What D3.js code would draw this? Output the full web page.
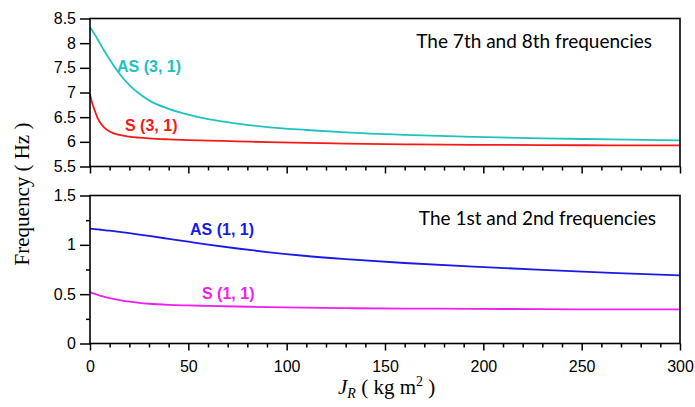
<!DOCTYPE html>
<html>
<head>
<meta charset="utf-8">
<script src="https://cdn.jsdelivr.net/npm/d3@7"></script>
<style>
  html, body { margin: 0; padding: 0; background: #fff; }
  svg { display: block; }
  .tick text { font-family: "Liberation Sans", Arial, sans-serif; font-size: 16px; fill: #000; }
</style>
</head>
<body>
<svg id="chart" width="695" height="407"></svg>
<script>
// Rotor inertia J_R (kg m^2) at which the frequencies were evaluated
const jr = [0, 1, 2, 3, 4, 5.5, 7, 10, 15, 20, 25, 30, 40, 50, 60, 75, 90, 110, 130, 160, 195, 230, 265, 300];

// 7th / 8th frequencies (Hz)
const as31 = [8.32, 8.26, 8.20, 8.14, 8.07, 7.965, 7.86, 7.67, 7.38, 7.15, 6.98, 6.84, 6.67, 6.55, 6.46, 6.37, 6.30, 6.24, 6.19, 6.14, 6.10, 6.07, 6.05, 6.03];
const s31  = [6.97, 6.80, 6.68, 6.57, 6.47, 6.37, 6.30, 6.21, 6.14, 6.105, 6.085, 6.07, 6.05, 6.035, 6.025, 6.01, 5.995, 5.98, 5.965, 5.95, 5.94, 5.935, 5.93, 5.93];

// 1st / 2nd frequencies (Hz)
const as11 = [1.163, 1.162, 1.160, 1.158, 1.156, 1.153, 1.150, 1.143, 1.131, 1.118, 1.104, 1.090, 1.061, 1.032, 1.003, 0.963, 0.927, 0.887, 0.855, 0.816, 0.779, 0.746, 0.716, 0.690];
const s11  = [0.520, 0.513, 0.506, 0.499, 0.492, 0.483, 0.474, 0.459, 0.440, 0.424, 0.412, 0.403, 0.392, 0.386, 0.381, 0.375, 0.369, 0.363, 0.358, 0.354, 0.351, 0.348, 0.346, 0.345];

const xTicks = [0, 50, 100, 150, 200, 250, 300];
const topYTicks = [5.5, 6, 6.5, 7, 7.5, 8, 8.5];
const botYTicks = [0, 0.5, 1, 1.5];

const svg = d3.select("#chart");
const x = d3.scaleLinear().domain([0, 300]).range([90, 680]);

const panels = [
  {
    y: d3.scaleLinear().domain([5.5, 8.5]).range([166.5, 18.5]),
    yTicks: topYTicks, yMinor: [],
    showXLabels: false,
    title: "The 7th and 8th frequencies", titlePos: [652, 47.5],
    series: [
      { values: as31, color: "#22c1c1", label: "AS (3, 1)", lx: 117, ly: 71.5 },
      { values: s31,  color: "#f51a1a", label: "S (3, 1)",  lx: 125, ly: 131 }
    ]
  },
  {
    y: d3.scaleLinear().domain([0, 1.5]).range([343.5, 195.5]),
    yTicks: botYTicks, yMinor: [0.25, 0.75, 1.25],
    showXLabels: true,
    title: "The 1st and 2nd frequencies", titlePos: [656, 224.5],
    series: [
      { values: as11, color: "#1a1ae6", label: "AS (1, 1)", lx: 190, ly: 235 },
      { values: s11,  color: "#f01ef0", label: "S (1, 1)",  lx: 202, ly: 299 }
    ]
  }
];

panels.forEach(p => {
  const g = svg.append("g");
  const [y0, y1] = p.y.range();

  // curves and their labels
  p.series.forEach(s => {
    const line = d3.line()
      .x((d, i) => x(jr[i]))
      .y(d => p.y(d))
      .curve(d3.curveMonotoneX);
    g.append("path")
      .attr("d", line(s.values))
      .attr("fill", "none")
      .attr("stroke", s.color)
      .attr("stroke-width", 1.8);
    g.append("text")
      .attr("x", s.lx).attr("y", s.ly)
      .attr("fill", s.color)
      .attr("font-family", "'Liberation Sans', Arial, sans-serif")
      .attr("font-weight", "bold")
      .attr("font-size", 16)
      .text(s.label);
  });

  // frame
  g.append("rect")
    .attr("x", x(0)).attr("y", y1)
    .attr("width", x(300) - x(0)).attr("height", y0 - y1)
    .attr("fill", "none").attr("stroke", "#000").attr("stroke-width", 1.6);

  // x axis: major ticks every 50, minor every 10
  const xAxis = d3.axisBottom(x).tickValues(xTicks).tickSize(7).tickSizeOuter(0)
    .tickFormat(p.showXLabels ? d3.format("d") : () => "");
  const xa = g.append("g").attr("transform", `translate(0,${y0})`).call(xAxis);
  xa.select(".domain").remove();
  xa.selectAll(".tick line").attr("stroke-width", 1.5);
  xa.selectAll(".tick text").attr("dy", "1.15em");
  const xMinor = d3.axisBottom(x).tickValues(d3.range(0, 301, 10).filter(v => v % 50 !== 0))
    .tickSize(4).tickFormat(() => "");
  const xm = g.append("g").attr("transform", `translate(0,${y0})`).call(xMinor);
  xm.select(".domain").remove();
  xm.selectAll(".tick line").attr("stroke-width", 1.5);

  // y axis
  const yAxis = d3.axisLeft(p.y).tickValues(p.yTicks).tickSize(10).tickSizeOuter(0)
    .tickFormat(d3.format("~g")).tickPadding(4);
  const ya = g.append("g").attr("transform", `translate(${x(0)},0)`).call(yAxis);
  ya.select(".domain").remove();
  ya.selectAll(".tick line").attr("stroke-width", 1.5);
  if (p.yMinor.length) {
    const ym = g.append("g").attr("transform", `translate(${x(0)},0)`)
      .call(d3.axisLeft(p.y).tickValues(p.yMinor).tickSize(4).tickFormat(() => ""));
    ym.select(".domain").remove();
    ym.selectAll(".tick line").attr("stroke-width", 1.5);
  }

  // panel title
  g.append("text")
    .attr("x", p.titlePos[0]).attr("y", p.titlePos[1])
    .attr("text-anchor", "end")
    .attr("font-family", "Lato, 'Open Sans', sans-serif")
    .attr("font-size", 19)
    .attr("fill", "#000")
    .text(p.title);
});

// y axis title
svg.append("text")
  .attr("transform", "translate(29,194) rotate(-90)")
  .attr("text-anchor", "middle")
  .attr("font-family", "'Liberation Serif', 'Times New Roman', serif")
  .attr("font-size", 21)
  .text("Frequency ( Hz )");

// x axis title: J_R ( kg m^2 )
const xt = svg.append("text")
  .attr("x", 338).attr("y", 393.5)
  .attr("font-family", "'Liberation Serif', 'Times New Roman', serif")
  .attr("font-size", 21);
xt.append("tspan").attr("font-style", "italic").text("J");
xt.append("tspan").attr("font-style", "italic").attr("font-size", 14).attr("dy", 4).text("R");
xt.append("tspan").attr("dy", -4).text(" ( kg m");
xt.append("tspan").attr("font-size", 14).attr("dy", -8).text("2");
xt.append("tspan").attr("dy", 8).text(" )");
</script>
</body>
</html>
